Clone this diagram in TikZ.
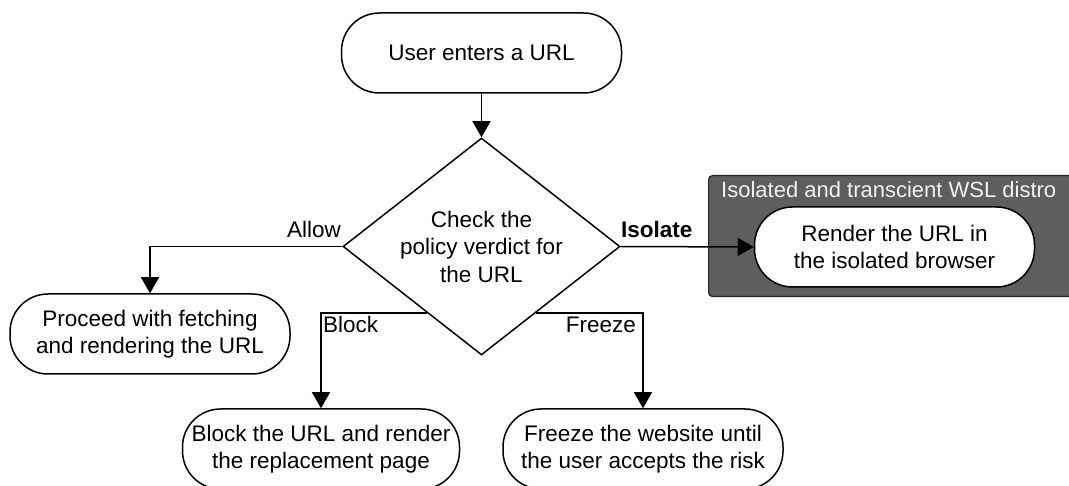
\documentclass[tikz,border=0pt]{standalone}
\usepackage{fontspec}
\setmainfont{Liberation Sans}
\usetikzlibrary{shapes.geometric,arrows.meta,calc}
\definecolor{grpgray}{HTML}{5E5E5E}
\definecolor{grptext}{HTML}{F2F2F2}
\begin{document}
\begin{tikzpicture}[x=1pt,y=1pt,
  every node/.style={font=\fontsize{22.5}{27.5}\selectfont},
  term/.style={draw, line width=1.5pt, fill=white, rounded corners=38pt,
    minimum width=280pt, minimum height=80pt, align=center, inner sep=0pt},
  arr/.style={line width=1.5pt, -{Triangle[length=16pt,width=18pt]}},
  lbl/.style={inner sep=0pt},
  groupbox/.style={draw=black!85, line width=1.2pt, fill=grpgray, rounded corners=4pt,
    anchor=north west, inner sep=0pt}
]
\useasboundingbox (0,0) rectangle (1069,-486);
\clip (0,0) rectangle (1069,-486);

% group container
\node[groupbox, minimum width=380pt, minimum height=121pt] (grp) at (708,-175) {};
\node[lbl, anchor=base west, text=grptext, font=\fontsize{22}{27.5}\selectfont] (grptitle) at (721,-198) {Isolated and transcient WSL distro};

% nodes
\node[term] (start) at (481.5,-53) {User enters a URL};
\node[draw, diamond, line width=1.5pt, fill=white, minimum width=277pt, minimum height=217pt,
  inner sep=0pt, shape aspect=1.277] (dec) at (481.5,-246.5) {};
\node[align=center, inner sep=0pt] (dectext) at (dec.center) {Check the\\policy verdict for\\the URL};
\node[term] (proc) at (150,-334) {Proceed with fetching\\and rendering the URL};
\node[term] (render) at (894.5,-247) {Render the URL in\\the isolated browser};
\node[term, minimum width=277pt] (block) at (321,-449) {Block the URL and render\\the replacement page};
\node[term] (freeze) at (643,-449) {Freeze the website until\\the user accepts the risk};

% connectors
\draw[arr] (start) -- (dec.north);
\draw[arr] (dec.west) -| (proc.north);
\draw[arr] (dec.east) -- (render.west);
\coordinate (bl) at ($(dec.west)!0.61!(dec.south)$);
\coordinate (fr) at ($(dec.east)!0.61!(dec.south)$);
\draw[arr] (bl) -| (block.north);
\draw[arr] (fr) -| (freeze.north);

% labels
\node[lbl, anchor=base east] (lallow) at (341,-238) {Allow};
\node[lbl, anchor=base west] (liso) at (621,-238) {\bfseries Isolate};
\node[lbl, anchor=base west] (lblock) at (323,-333) {Block};
\node[lbl, anchor=base east] (lfreeze) at (636,-333) {Freeze};
\end{tikzpicture}
\end{document}
